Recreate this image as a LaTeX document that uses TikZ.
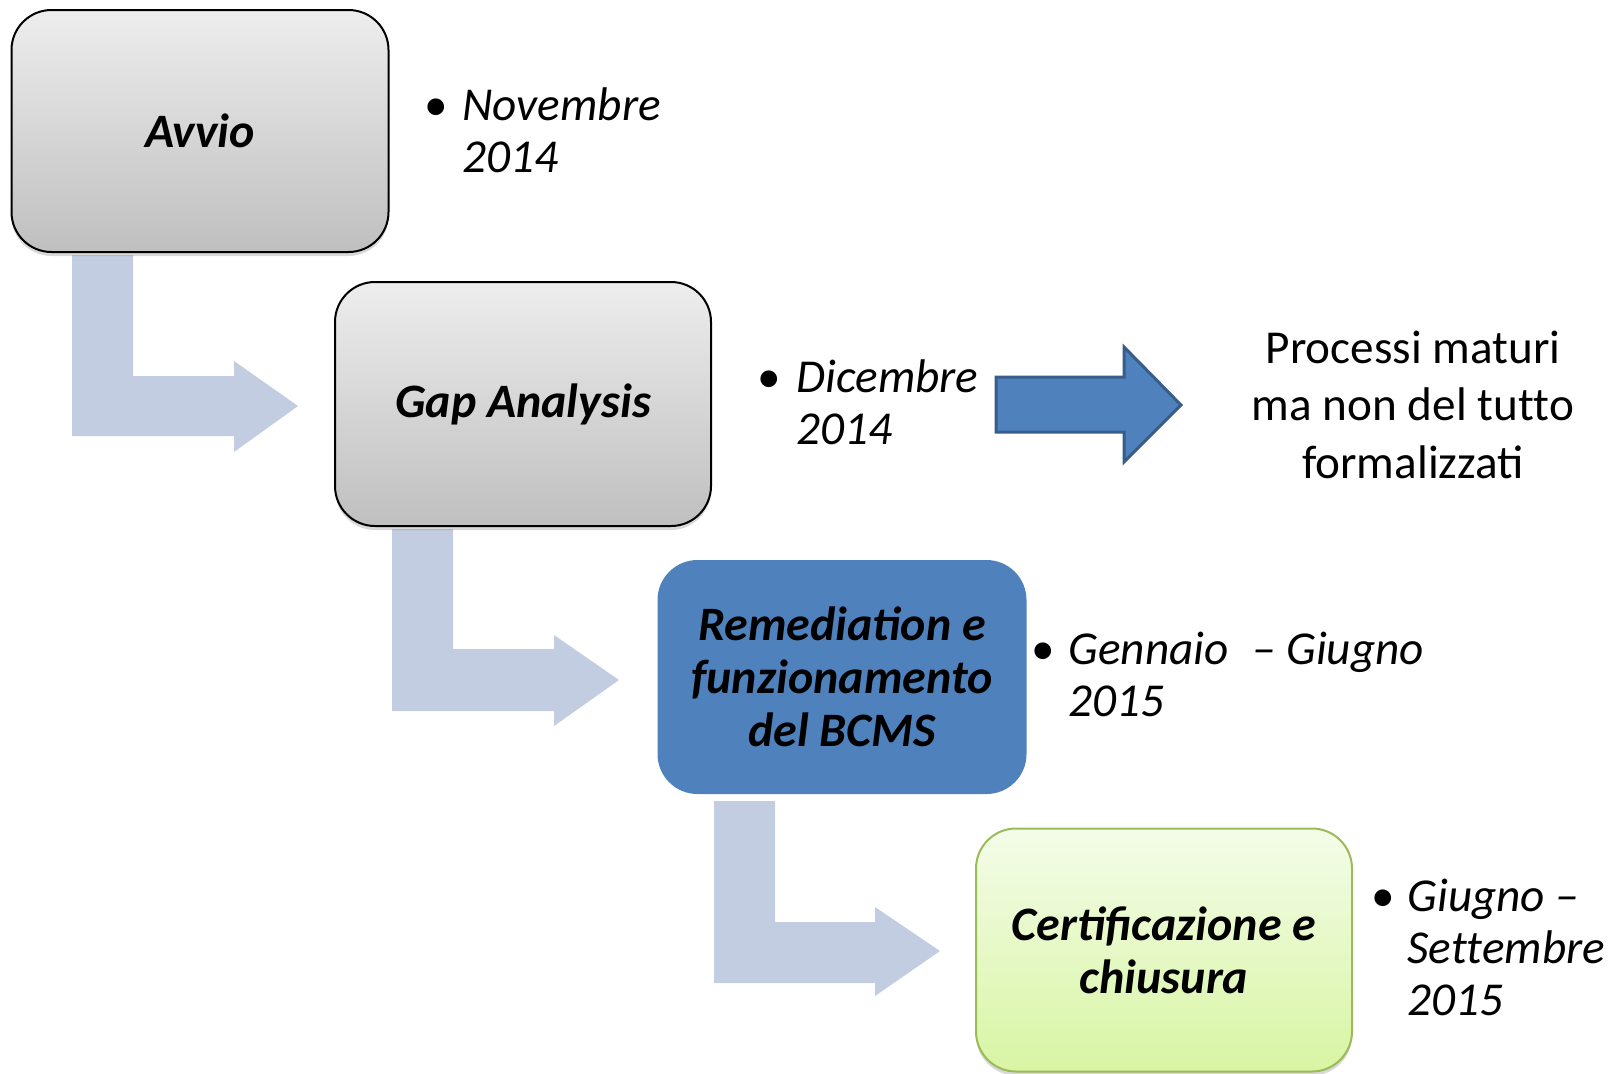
\documentclass[tikz,border=0pt]{standalone}
\usepackage{fontspec}
\setmainfont{Carlito}
\usetikzlibrary{shadows}
\definecolor{lblue}{RGB}{195,205,226}
\definecolor{mblue}{RGB}{79,129,189}
\definecolor{dblue}{RGB}{56,93,138}
\definecolor{ggreen}{RGB}{155,187,89}
\tikzset{
  stagebox/.style={rounded corners=20pt, align=center, inner sep=0pt,
    font=\fontsize{24pt}{26.5pt}\selectfont\bfseries\itshape},
  boxshadow/.style={drop shadow={opacity=0.3, shadow xshift=0pt, shadow yshift=-2pt}},
  graybox/.style={stagebox, boxshadow, draw=black, line width=1pt, top color=black!7, bottom color=black!25},
  bluebox/.style={stagebox, fill=mblue},
  greenbox/.style={stagebox, boxshadow, draw=ggreen, line width=1pt, top color={rgb,255:red,244;green,252;blue,233}, bottom color={rgb,255:red,216;green,245;blue,163}},
  datetext/.style={anchor=base west, align=left, inner sep=0pt,
    font=\fontsize{23.6pt}{26pt}\selectfont\itshape},
  bulletdot/.style={anchor=base, inner sep=0pt, font=\fontsize{23.6pt}{26pt}\selectfont},
  larrow/.style={fill=lblue, draw=none},
  bigarrow/.style={fill=mblue, draw=dblue, line width=1.5pt, line join=miter}
}
\begin{document}
\begin{tikzpicture}[x=0.5pt,y=-0.5pt]
\useasboundingbox (0,0) rectangle (1610,1073);

% L-shaped block arrows
\draw[larrow] (72,255) -- (133,255) -- (133,376) -- (234,376) -- (234,361) -- (298,406) -- (234,452) -- (234,436) -- (72,436) -- cycle;
\draw[larrow] (392,529) -- (453,529) -- (453,649) -- (554,649) -- (554,635) -- (619,680) -- (554,726) -- (554,711) -- (392,711) -- cycle;
\draw[larrow] (714,801) -- (775,801) -- (775,922) -- (875,922) -- (875,907) -- (940,951) -- (875,996) -- (875,983) -- (714,983) -- cycle;

% Stage boxes
\node[graybox, minimum width=188.5pt, minimum height=121pt] (avvio) at (200,131) {Avvio};
\node[graybox, minimum width=188pt, minimum height=122pt] (gap) at (523,404) {Gap Analysis};
\node[bluebox, minimum width=184.5pt, minimum height=117pt] (rem) at (842,677) {Remediation e\\funzionamento\\del BCMS};
\node[greenbox, minimum width=188pt, minimum height=121.5pt] (cert) at (1164,950) {Certificazione e\\chiusura};

% Dates (base anchor = baseline of the last line)
\node[bulletdot] (b1) at (436,120) {•};
\node[datetext] (d1) at (462,172) {Novembre\\2014};
\node[bulletdot] (b2) at (769,392) {•};
\node[datetext] (d2) at (796,444) {Dicembre\\2014};
\node[bulletdot] (b3) at (1043,664) {•};
\node[datetext] (d3) at (1068,716) {Gennaio\enspace – Giugno\\2015};
\node[bulletdot] (b4) at (1383,911) {•};
\node[datetext] (d4) at (1407,1015) {Giugno –\\Set\kern0pt tembre\\2015};

% Big arrow and result
\draw[bigarrow] (996,377) -- (1124,377) -- (1124,347) -- (1181,405) -- (1124,462) -- (1124,432) -- (996,432) -- cycle;
\node[anchor=base, align=center, inner sep=0pt, font=\fontsize{23.6pt}{28.75pt}\selectfont] (res) at (1413,478) {Processi maturi\\ma non del tut\kern0pt to\\formalizzati};
\end{tikzpicture}
\end{document}
